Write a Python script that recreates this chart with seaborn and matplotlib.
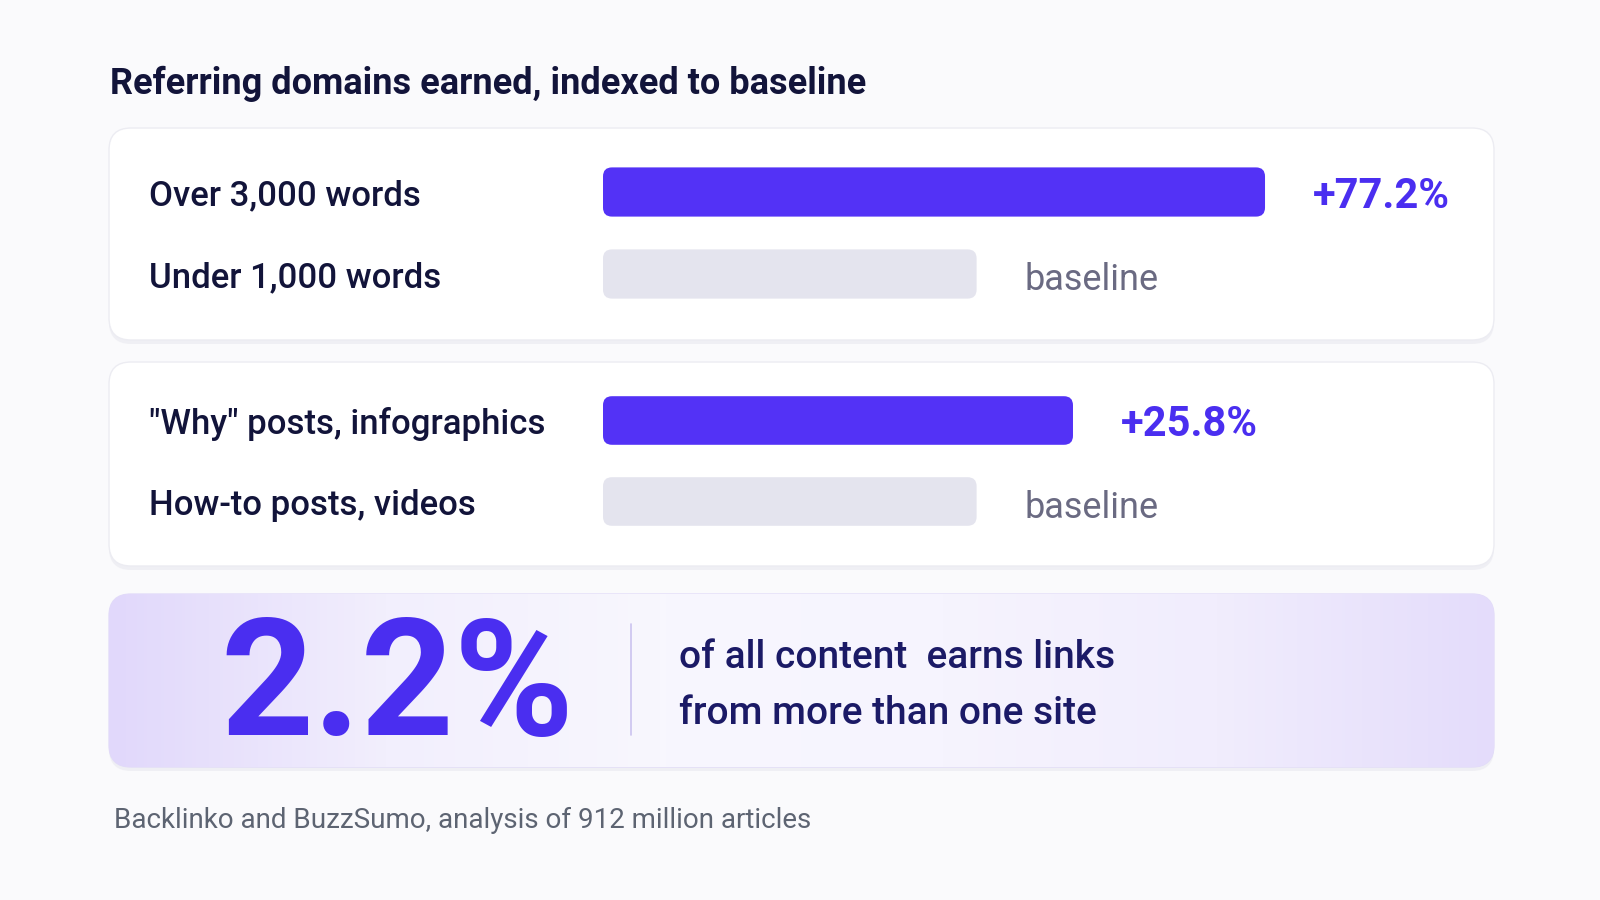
import numpy as np
import pandas as pd
import matplotlib.pyplot as plt
import seaborn as sns
from matplotlib.patches import FancyBboxPatch
from matplotlib.colors import LinearSegmentedColormap

# datos
length_labels = ["Over 3,000 words", "Under 1,000 words"]
length_index = [177.2, 100.0]
format_labels = ['"Why" posts, infographics', "How-to posts, videos"]
format_index = [125.8, 100.0]
value_texts_length = ["+77.2%", "baseline"]
value_texts_format = ["+25.8%", "baseline"]
share_value = "2.2%"
share_text = ["of all content  earns links", "from more than one site"]
title = "Referring domains earned, indexed to baseline"
source = "Backlinko and BuzzSumo, analysis of 912 million articles"

PURPLE = "#5332f6"
PURPLE_TXT = "#4a2ef0"
GREY_BAR = "#e4e4ee"
NAVY = "#12143a"
GREY_TXT = "#6a6a82"

sns.set_theme(style="white")
plt.rcParams['font.family'] = ['Roboto', 'DejaVu Sans']

W, H = 1600, 900
fig = plt.figure(figsize=(16, 9), dpi=100)
fig.patch.set_facecolor("#fafafc")

# fondo en pixeles
bg = fig.add_axes([0, 0, 1, 1])
bg.set_xlim(0, W)
bg.set_ylim(H, 0)
bg.axis("off")
bg.set_zorder(0)


def card(x0, y0, x1, y1, fc="white", ec="#ececf2", r=22):
    sh = FancyBboxPatch((x0, y0 + 4), x1 - x0, y1 - y0,
                        boxstyle=f"round,pad=0,rounding_size={r}",
                        fc="#e9e9ef", ec="none", alpha=0.6, zorder=1)
    bg.add_patch(sh)
    p = FancyBboxPatch((x0, y0), x1 - x0, y1 - y0,
                       boxstyle=f"round,pad=0,rounding_size={r}",
                       fc=fc, ec=ec, lw=1, zorder=2)
    bg.add_patch(p)
    return p


card(109, 128, 1494, 340)
card(109, 362, 1494, 566)
hl = card(109, 594, 1494, 767, fc="none", ec="#e2dcf8")

# degradado de la tarjeta morada
cmap = LinearSegmentedColormap.from_list(
    "lav", ["#e1d8fb", "#f2effd", "#f8f7fe", "#f6f4fe", "#f1edfd", "#e4dcfb"])
grad = np.linspace(0, 1, 400).reshape(1, -1)
im = bg.imshow(grad, cmap=cmap, extent=(109, 1494, 767, 594),
               aspect="auto", zorder=2)
im.set_clip_path(hl)

bg.text(110, 94, title, fontsize=26, fontweight="bold", color=NAVY,
        va="baseline", ha="left", zorder=5)

# ejes de barras
X_LEFT, X_MAX, PX_PER_UNIT = 603, 200, 3.736
ax_w = X_MAX * PX_PER_UNIT


def bar_panel(labels, values, texts, y_top, y_bot):
    ax = fig.add_axes([X_LEFT / W, 1 - y_bot / H, ax_w / W, (y_bot - y_top) / H])
    ax.set_zorder(3)
    ax.patch.set_alpha(0)
    df = pd.DataFrame({"label": labels, "value": values})
    sns.barplot(data=df, x="value", y="label", hue="label", orient="h",
                palette=[PURPLE, GREY_BAR], width=0.6, saturation=1,
                legend=False, ax=ax)
    ax.set_xlim(0, X_MAX)
    ax.set_ylim(1.5, -0.5)
    ax.axis("off")

    # redondear las barras
    ypx = (y_bot - y_top) / 2.0
    r_px = 9
    for bar in list(ax.patches):
        x0, y0 = bar.get_x(), bar.get_y()
        bw, bh = bar.get_width(), bar.get_height()
        fc = bar.get_facecolor()
        bar.remove()
        rb = FancyBboxPatch((x0, y0), bw, bh,
                            boxstyle=f"round,pad=0,rounding_size={r_px / PX_PER_UNIT}",
                            mutation_aspect=PX_PER_UNIT / ypx,
                            fc=fc, ec="none", zorder=3)
        ax.add_patch(rb)

    for i, (lab, v, t) in enumerate(zip(labels, values, texts)):
        ax.text((149 - X_LEFT) / ax_w, i, lab, transform=ax.get_yaxis_transform(),
                fontsize=25, fontweight="medium", color=NAVY,
                va="center_baseline", ha="left", clip_on=False)
        off = 48 / PX_PER_UNIT
        if t == "baseline":
            ax.text(v + off, i + 0.03, t, fontsize=26, color=GREY_TXT,
                    va="center_baseline", ha="left", clip_on=False)
        else:
            ax.text(v + off, i, t, fontsize=30, fontweight="bold",
                    color=PURPLE_TXT, va="center_baseline", ha="left",
                    clip_on=False)
    return ax


bar_panel(length_labels, length_index, value_texts_length, 151, 315)
bar_panel(format_labels, format_index, value_texts_format, 380, 542)

# tarjeta destacada
bg.text(220, 735, share_value, fontsize=117, fontweight="bold",
        color=PURPLE_TXT, va="baseline", ha="left", zorder=5)
bg.plot([631, 631], [624, 735], color="#cbc3ef", lw=1.2, zorder=5)
bg.text(679, 668, share_text[0], fontsize=28, fontweight="medium",
        color="#1b1a66", va="baseline", ha="left", zorder=5)
bg.text(679, 724, share_text[1], fontsize=28, fontweight="medium",
        color="#1b1a66", va="baseline", ha="left", zorder=5)

bg.text(114, 828, source, fontsize=20, color="#5d6472",
        va="baseline", ha="left", zorder=5)

fig.savefig("out.png", dpi=100, facecolor=fig.get_facecolor())
